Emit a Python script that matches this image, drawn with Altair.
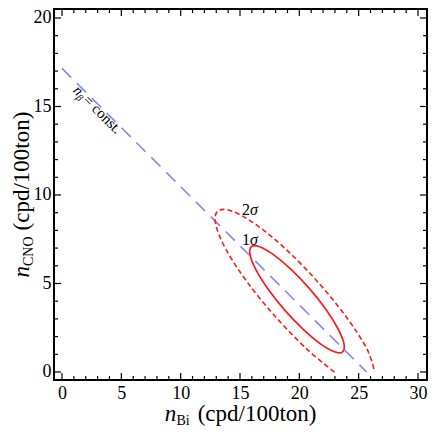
import altair as alt
import pandas as pd

# ---- data ----
x_ticks_major = [0, 5, 10, 15, 20, 25, 30]
y_ticks_major = [0, 5, 10, 15, 20]
x_ticks_minor = [v for v in range(0, 31) if v % 5 != 0]
y_ticks_minor = [v for v in range(0, 21) if v % 5 != 0]

# n_beta = const. line
line_x = [0.0, 25.67]
line_y = [17.15, 0.0]

# 1 sigma contour (closed)
e1_x = [23.65, 22.96, 21.78, 20.31, 18.75, 17.36, 16.34, 15.85, 15.96, 16.65,
        17.82, 19.30, 20.86, 22.25, 23.27, 23.76]
e1_y = [1.14, 1.14, 1.59, 2.42, 3.51, 4.69, 5.78, 6.62, 7.08, 7.08,
        6.63, 5.80, 4.71, 3.53, 2.43, 1.60]

# 2 sigma contour (open, cut at n_CNO = 0)
e2_x = [22.96, 20.70, 18.03, 15.62, 13.84, 12.96, 13.12, 14.29, 16.30, 18.83,
        21.50, 23.91, 25.69, 26.35]
e2_y = [0.0, 1.25, 3.09, 5.07, 6.90, 8.32, 9.09, 9.10, 8.35, 6.96,
        5.13, 3.15, 1.31, 0.0]

sigma_nums = ["1", "2"]
sigma_x = [15.16, 15.16]
sigma_y = [7.19, 8.86]

# rotated "n_beta = const." label pieces (data anchor positions)
nb_text = ["n", "β", "= const."]
nb_x = [0.87, 1.13, 1.71]
nb_y = [15.86, 15.46, 15.31]

FONT = "Liberation Serif"
W, H = 373, 371

xs = alt.Scale(domain=[-0.674, 30.758], nice=False, zero=False)
ys = alt.Scale(domain=[-0.452, 20.508], nice=False, zero=False)

x_axis = alt.Axis(values=x_ticks_major, ticks=False, tickSize=0, domain=False,
                  grid=False, labelFont=FONT, labelFontSize=18, labelColor="black",
                  labelPadding=18, labelBaseline="alphabetic", labelFlush=False,
                  labelOverlap=False, title=None)
y_axis = alt.Axis(values=y_ticks_major, ticks=False, tickSize=0, domain=False,
                  grid=False, labelFont=FONT, labelFontSize=18, labelColor="black",
                  labelPadding=3, labelFlush=False, labelOverlap=False, title=None)

X = lambda f: alt.X(f, scale=xs, axis=x_axis)
Y = lambda f: alt.Y(f, scale=ys, axis=y_axis)

df_line = pd.DataFrame({"x": line_x, "y": line_y, "o": [0, 1]})
df_e1 = pd.DataFrame({"x": e1_x, "y": e1_y, "o": list(range(len(e1_x)))})
df_e2 = pd.DataFrame({"x": e2_x, "y": e2_y, "o": list(range(len(e2_x)))})

blue = alt.Chart(df_line).mark_line(color="#8585f2", strokeWidth=1.6,
                                    strokeDash=[13, 8], clip=True).encode(
    x=X("x:Q"), y=Y("y:Q"), order="o:Q")

ell1 = alt.Chart(df_e1).mark_line(color="#ff1a1a", strokeWidth=1.7,
                                  interpolate="cardinal-closed", clip=True).encode(
    x=X("x:Q"), y=Y("y:Q"), order="o:Q")

ell2 = alt.Chart(df_e2).mark_line(color="#ff1a1a", strokeWidth=1.6,
                                  strokeDash=[5, 3], interpolate="cardinal",
                                  clip=True).encode(
    x=X("x:Q"), y=Y("y:Q"), order="o:Q")

def xticks(vals, length):
    df = pd.DataFrame({"v": vals})
    b = alt.Chart(df).mark_rule(color="black", strokeWidth=1.2)
    bottom = b.encode(x=X("v:Q"), y=alt.value(H), y2=alt.value(H - length))
    top = b.encode(x=X("v:Q"), y=alt.value(0), y2=alt.value(length))
    return [bottom, top]

def yticks(vals, length):
    df = pd.DataFrame({"v": vals})
    b = alt.Chart(df).mark_rule(color="black", strokeWidth=1.2)
    left = b.encode(y=Y("v:Q"), x=alt.value(0), x2=alt.value(length))
    right = b.encode(y=Y("v:Q"), x=alt.value(W), x2=alt.value(W - length))
    return [left, right]

tick_layers = (xticks(x_ticks_major, 7) + xticks(x_ticks_minor, 4)
               + yticks(y_ticks_major, 7) + yticks(y_ticks_minor, 4))

df_sig = pd.DataFrame({"t": sigma_nums, "x": sigma_x, "y": sigma_y})
sig_num = alt.Chart(df_sig).mark_text(font=FONT, fontSize=16, align="left",
                                      baseline="alphabetic", color="black").encode(
    x=X("x:Q"), y=Y("y:Q"), text="t:N")
sig_sym = alt.Chart(df_sig).mark_text(font=FONT, fontSize=16, align="left",
                                      baseline="alphabetic", fontStyle="italic",
                                      dx=8, color="black").encode(
    x=X("x:Q"), y=Y("y:Q"), text=alt.value("σ"))

nb_layers = []
nb_sizes = [15, 10, 15]
nb_styles = ["italic", "italic", "normal"]
for i in range(3):
    d = pd.DataFrame({"t": [nb_text[i]], "x": [nb_x[i]], "y": [nb_y[i]]})
    nb_layers.append(alt.Chart(d).mark_text(
        font=FONT, fontSize=nb_sizes[i], fontStyle=nb_styles[i], angle=45,
        align="left", baseline="alphabetic", color="black").encode(
        x=X("x:Q"), y=Y("y:Q"), text="t:N"))

# axis titles built from pieces (subscripts)
def ptext(t, x, y, size, style="normal", angle=0):
    d = pd.DataFrame({"t": [t]})
    kw = dict(font=FONT, fontSize=size, fontStyle=style, align="left",
              baseline="alphabetic", color="black")
    if angle:
        kw["angle"] = angle
    return alt.Chart(d).mark_text(**kw).encode(
        x=alt.value(x), y=alt.value(y), text="t:N")

title_layers = [
    ptext("n", 110.75, 412, 23, "italic"),
    ptext("Bi", 122.5, 416, 14),
    ptext("(cpd/100ton)", 143.7, 412, 23),
    ptext("n", -25.5, 268.5, 23, "italic", 270),
    ptext("CNO", -21.5, 257, 14, "normal", 270),
    ptext("(cpd/100ton)", -25.5, 221.4, 23, "normal", 270),
]

chart = alt.layer(blue, ell2, ell1, *tick_layers, sig_num, sig_sym,
                  *nb_layers, *title_layers).properties(
    width=W, height=H,
    autosize=alt.AutoSizeParams(type="none"),
    padding={"left": 46, "top": 1, "right": 1, "bottom": 48},
    background="white",
).configure_view(stroke="black", strokeWidth=2)

chart.save("out.html", embed_options={"renderer": "svg", "actions": False})
